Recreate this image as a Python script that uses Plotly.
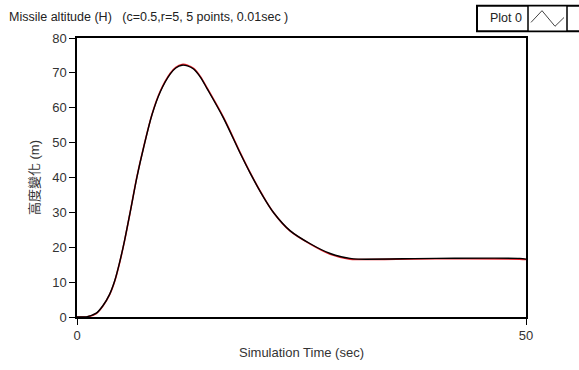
import plotly.graph_objects as go

# Data
time_black = [0, 0.5, 1.04, 2.15, 2.9, 3.63, 4.19, 4.74, 5.3, 5.94, 6.68, 7.42, 8.35, 9.28, 10.39, 11.0, 11.69,
              12.3, 12.98, 13.73, 14.48, 16.3, 18.2, 19.3, 20.6, 21.9, 23.75, 25.98, 28.2, 30.4, 31.3, 40.0, 49.3, 50.0]
alt_black = [0, 0, 0.05, 1.1, 3.3, 6.5, 10.3, 15.6, 22.0, 30.3, 40.2, 48.6, 58.0, 64.6, 69.7, 71.4, 72.2,
             72.0, 71.1, 68.8, 65.5, 57.1, 46.8, 41.2, 35.1, 29.9, 24.7, 21.0, 18.2, 16.8, 16.6, 16.8, 16.8, 16.6]
time_red = list(time_black)
alt_red = [0, 0, 0.0, 1.0, 3.2, 6.4, 10.2, 15.5, 21.9, 30.3, 40.3, 48.7, 58.1, 64.8, 69.9, 71.6, 72.4,
           72.2, 71.3, 69.0, 65.7, 57.3, 47.0, 41.3, 35.2, 29.9, 24.6, 20.9, 18.0, 16.6, 16.5, 16.7, 16.6, 16.5]

x_ticks = [0, 50]
y_ticks = [0, 10, 20, 30, 40, 50, 60, 70, 80]

title_text = "Missile altitude (H)   (c=0.5,r=5, 5 points, 0.01sec )"
x_title = "Simulation Time (sec)"
y_title = "高度變化 (m)"
legend_text = "Plot 0"

FONT = "Liberation Sans, Noto Sans CJK TC, sans-serif"

fig = go.Figure()
fig.add_trace(go.Scatter(x=time_red, y=alt_red, mode="lines",
                         line=dict(color="#e8202a", width=1.6, shape="spline", smoothing=0.9),
                         showlegend=False, hoverinfo="skip"))
fig.add_trace(go.Scatter(x=time_black, y=alt_black, mode="lines",
                         line=dict(color="#000000", width=1.4, shape="spline", smoothing=0.9),
                         showlegend=False))

fig.update_layout(
    width=579, height=370,
    margin=dict(l=77, r=53, t=38, b=46),
    paper_bgcolor="white", plot_bgcolor="white",
    font=dict(family=FONT, size=12, color="#222222"),
    xaxis=dict(range=[0, 50], tickvals=x_ticks, ticks="outside", ticklen=6, tickwidth=1.3,
               tickcolor="black", showgrid=False, zeroline=False, showline=True, mirror=True,
               linecolor="black", linewidth=1.5, tickfont=dict(size=13, color="#333333"),
               title=dict(text=x_title, font=dict(size=13, color="#333333"), standoff=6)),
    yaxis=dict(range=[0, 80], tickvals=y_ticks, ticks="outside", ticklen=6, tickwidth=1.3,
               tickcolor="black", showgrid=False, zeroline=False, showline=True, mirror=True,
               linecolor="black", linewidth=1.5, tickfont=dict(size=13, color="#333333"),
               title=dict(text=y_title, font=dict(size=13, color="#333333"), standoff=10)),
)

fig.add_annotation(text=title_text, xref="paper", yref="paper", x=-0.156, y=1.0,
                   xanchor="left", yanchor="bottom", yshift=12, showarrow=False,
                   font=dict(size=12.5, color="#222222"))

# Legend box
W, H = 449.0, 286.0  # plot area size in px
def px(xp):
    return (xp - 77) / W
def py(yp):
    return (324 - yp) / H

fig.add_shape(type="rect", xref="paper", yref="paper", x0=px(477), x1=px(590), y0=py(31), y1=py(5),
              line=dict(color="black", width=2), fillcolor="white")
fig.add_shape(type="rect", xref="paper", yref="paper", x0=px(528), x1=px(567), y0=py(31), y1=py(5),
              line=dict(color="black", width=1.5), fillcolor="white")
fig.add_shape(type="path", xref="paper", yref="paper",
              path=f"M {px(531)} {py(22)} L {px(542)} {py(10)} L {px(555)} {py(26)} L {px(564)} {py(17)}",
              line=dict(color="#444444", width=1))
fig.add_annotation(text=legend_text, xref="paper", yref="paper", x=px(524), y=py(18),
                   xanchor="right", yanchor="middle", showarrow=False,
                   font=dict(size=12.5, color="#222222"))

fig.write_html("out.html", config={"displayModeBar": False},
               post_script="document.body.style.margin='0px';")
